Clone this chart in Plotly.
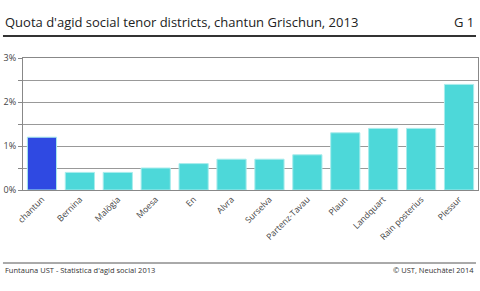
import plotly.graph_objects as go

categories = ["chantun", "Bernina", "Malögia", "Moesa", "En", "Alvra", "Surselva",
              "Partenz-Tavau", "Plaun", "Landquart", "Rain posterius", "Plessur"]
values = [1.2, 0.4, 0.4, 0.5, 0.6, 0.7, 0.7, 0.8, 1.3, 1.4, 1.4, 2.4]
ytick_vals = [0, 0.5, 1, 1.5, 2, 2.5, 3]
ytick_text = ["0%", "", "1%", "", "2%", "", "3%"]

colors = ["#2F49E2"] + ["#4DD8D9"] * (len(categories) - 1)

fig = go.Figure(go.Bar(
    x=categories, y=values,
    marker=dict(color=colors, line=dict(color="#A8ECEC", width=1)),
    width=0.77,
))

font_family = "Open Sans, Liberation Sans, sans-serif"
fig.update_layout(
    width=480, height=291,
    margin=dict(l=23, r=2, t=58, b=101),
    paper_bgcolor="white", plot_bgcolor="white",
    showlegend=False,
    font=dict(family=font_family, size=9, color="#444"),
    bargap=0.23,
    xaxis=dict(
        tickangle=-45, tickfont=dict(size=8.6, color="#444"),
        showline=True, linecolor="#888", linewidth=1, mirror=True,
        showgrid=False, ticks="", range=[-0.5, 11.5],
    ),
    yaxis=dict(
        range=[0, 3], tickvals=ytick_vals, ticktext=ytick_text,
        tickfont=dict(size=9, color="#444"),
        showgrid=True, gridcolor="#999", gridwidth=1.2,
        showline=True, linecolor="#888", linewidth=1, mirror=True,
        ticks="outside", ticklen=4, tickcolor="#888", zeroline=False,
    ),
    annotations=[
        dict(text="Quota d'agid social tenor districts, chantun Grischun, 2013",
             xref="paper", yref="paper", x=-0.044, y=(190 - 22) / 132,
             xanchor="left", yanchor="middle", showarrow=False,
             font=dict(size=13, color="#222", family=font_family)),
        dict(text="G 1", xref="paper", yref="paper", x=0.9956, y=(190 - 22) / 132,
             xanchor="right", yanchor="middle", showarrow=False,
             font=dict(size=13, color="#222", family=font_family)),
        dict(text="Funtauna UST - Statistica d'agid social 2013",
             xref="paper", yref="paper", x=-0.044, y=(190 - 270) / 132,
             xanchor="left", yanchor="middle", showarrow=False,
             font=dict(size=7.5, color="#333", family=font_family)),
        dict(text="© UST, Neuchâtel 2014",
             xref="paper", yref="paper", x=0.9956, y=(190 - 270) / 132,
             xanchor="right", yanchor="middle", showarrow=False,
             font=dict(size=7.5, color="#333", family=font_family)),
    ],
    shapes=[
        dict(type="line", xref="paper", yref="paper", x0=-0.044, x1=0.9956,
             y0=(190 - 36) / 132, y1=(190 - 36) / 132,
             line=dict(color="#333", width=2)),
        dict(type="line", xref="paper", yref="paper", x0=-0.044, x1=0.9956,
             y0=(190 - 263) / 132, y1=(190 - 263) / 132,
             line=dict(color="#555", width=1)),
    ],
)

fig.write_html("out.html")
